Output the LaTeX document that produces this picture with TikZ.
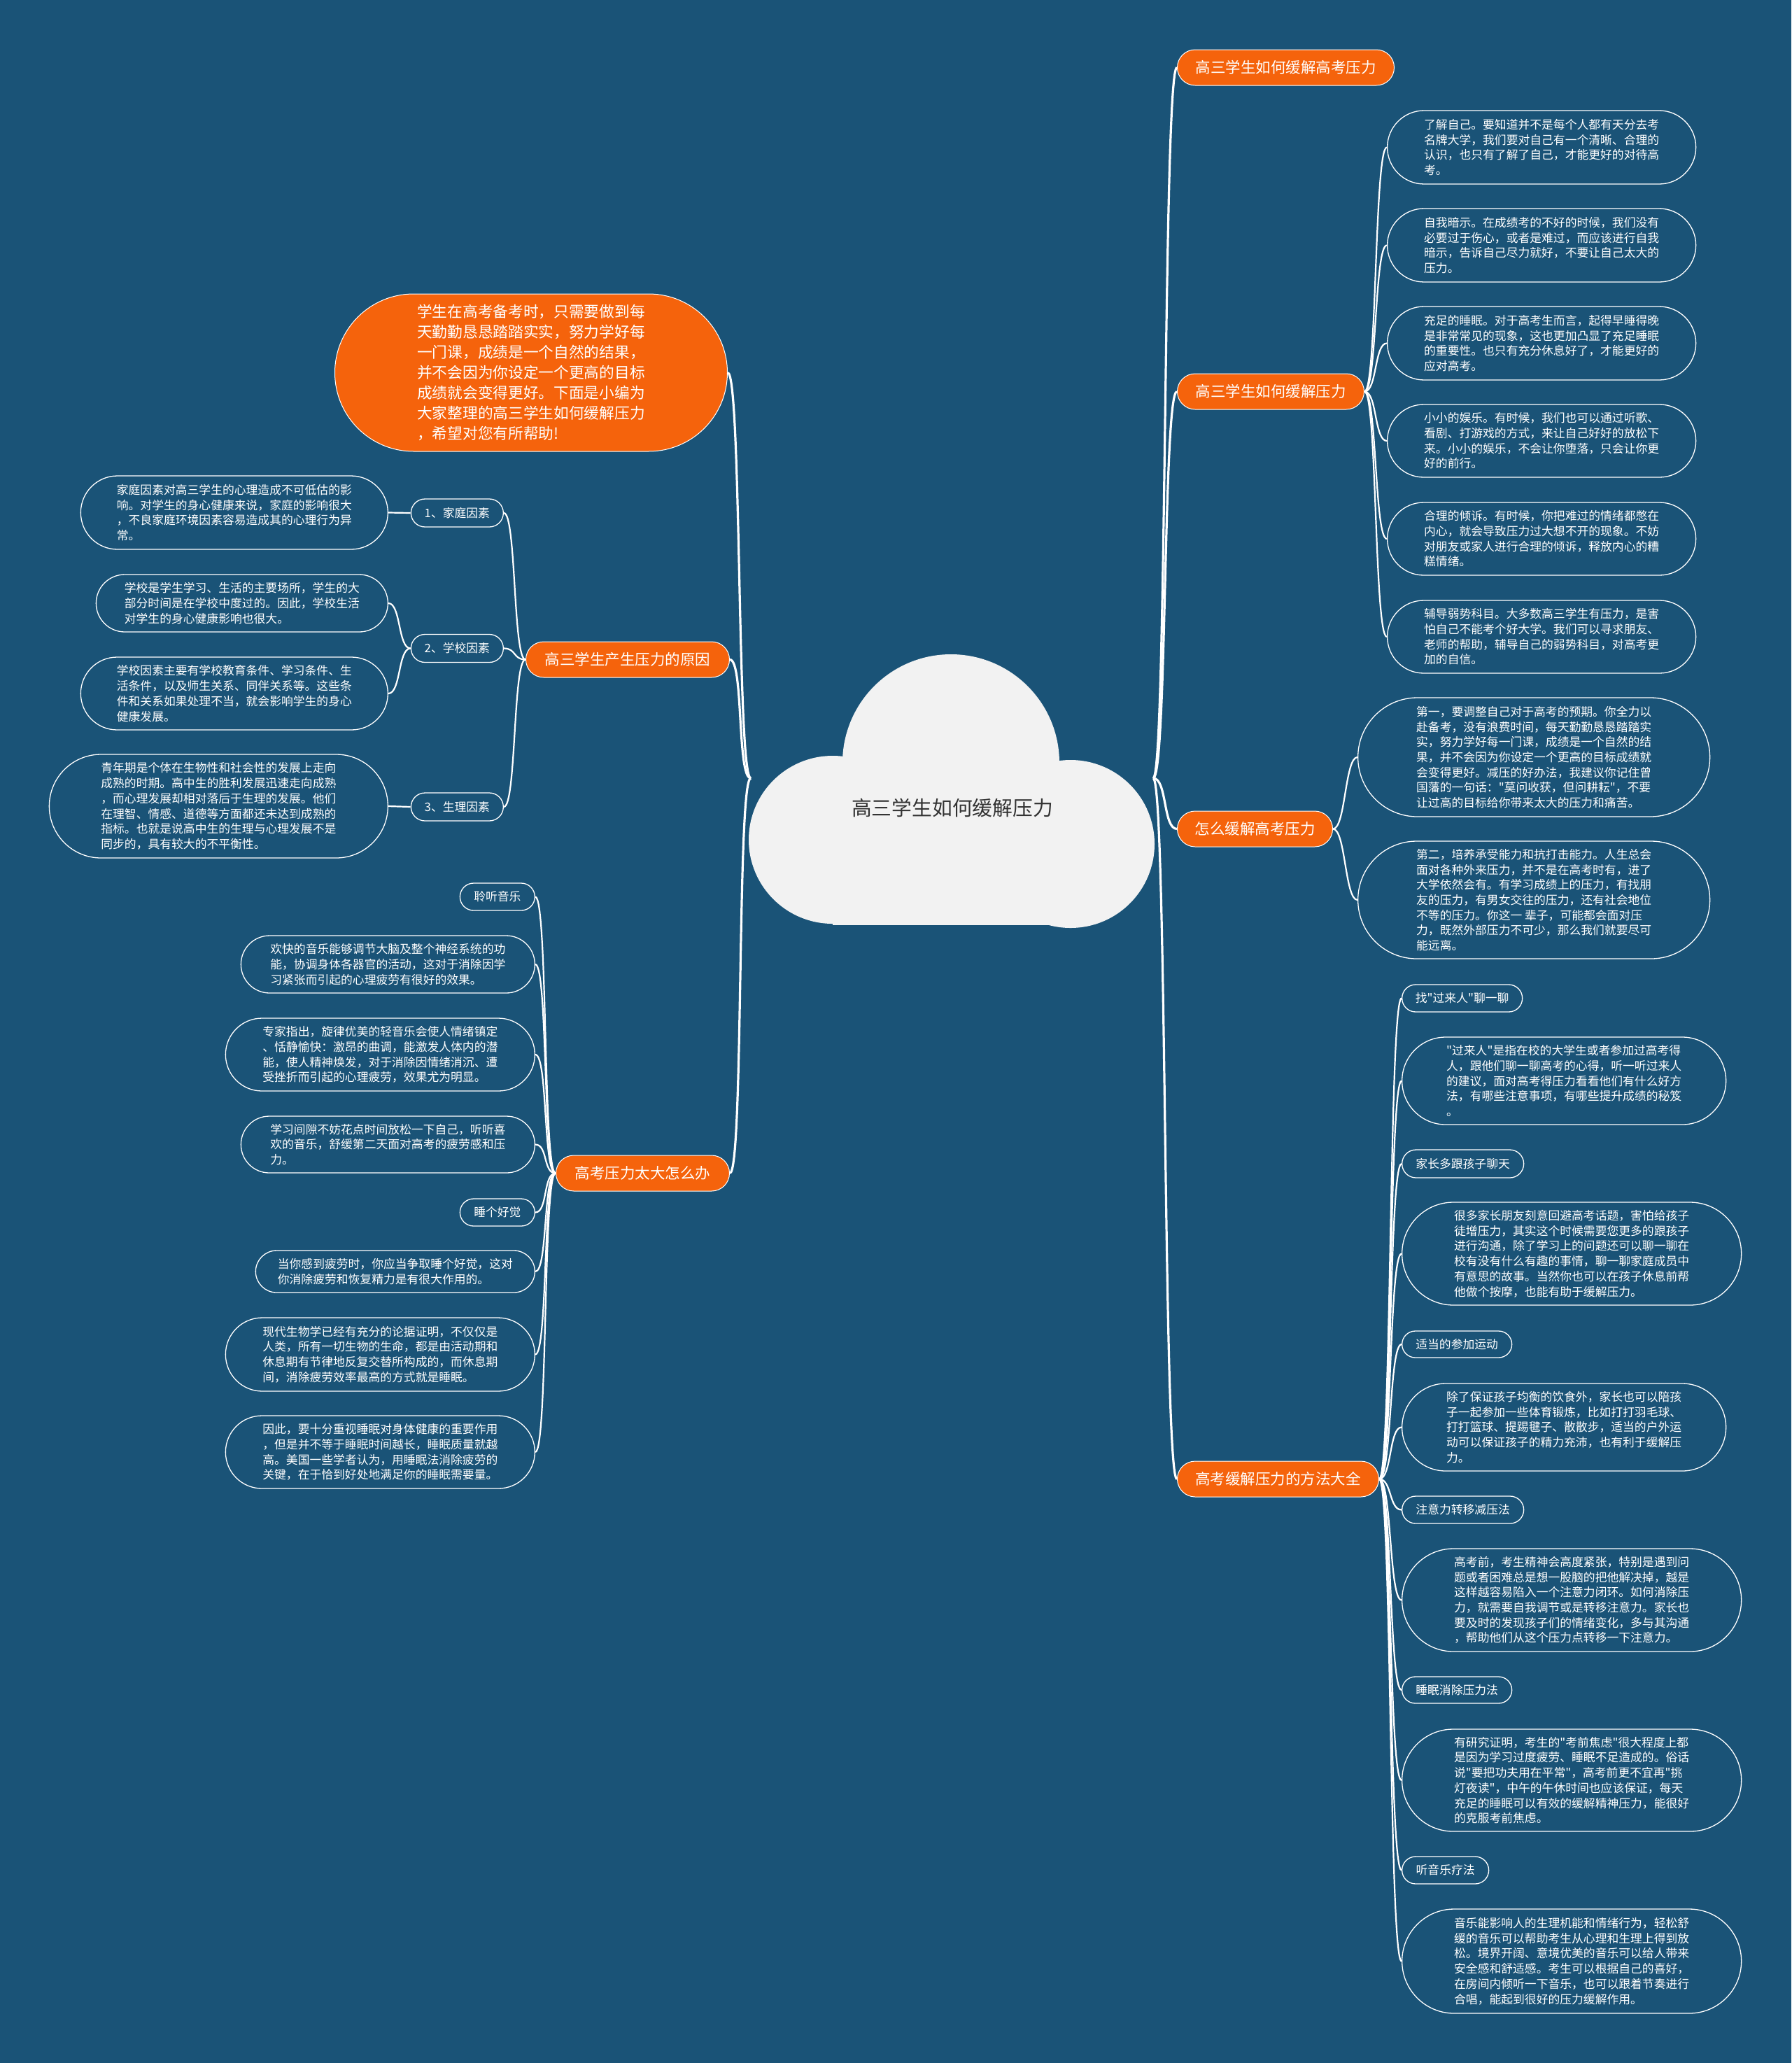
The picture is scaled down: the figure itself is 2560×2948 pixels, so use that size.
\documentclass[tikz,border=0pt]{standalone}
\usepackage{fontspec}
\newfontfamily\cjk{Noto Sans CJK SC}
\usetikzlibrary{shapes.misc}
\definecolor{bg}{HTML}{1A5377}
\definecolor{org}{HTML}{F5630C}
\definecolor{cloudc}{HTML}{F2F2F2}
\definecolor{roottxt}{HTML}{333333}
\begin{document}
\begin{tikzpicture}[x=1pt,y=-1pt,
  box/.style={draw=white, line width=1.3pt, rounded rectangle, inner sep=0pt, fill=bg, text=white, align=left, font=\cjk\fontsize{16.8}{21.7}\selectfont},
  brnode/.style={draw=white, line width=1pt, rounded rectangle, inner sep=0pt, fill=org, text=white, font=\cjk\fontsize{21.5}{26}\selectfont, minimum height=51pt},
  intro/.style={draw=white, line width=1pt, rounded rectangle, inner sep=0pt, fill=org, text=white, align=left, font=\cjk\fontsize{21.7}{29}\selectfont},
  conn/.style={draw=white, line width=2.2pt},
  trunk/.style={draw=white, line width=3.2pt}]

\fill[bg] (0,0) rectangle (2560,2948);
\useasboundingbox (0,0) rectangle (2560,2948);

% ---------- cloud ----------
\fill[cloudc] (1190,1200) circle[radius=120];
\fill[cloudc] (1530,1206) circle[radius=120];
\fill[cloudc] (1359,1090) circle[radius=155];
\fill[cloudc] (1190,1150) rectangle (1530,1322);
\node[text=roottxt, font=\cjk\fontsize{28.8}{34}\selectfont] (root) at (1361,1154) {高三学生如何缓解压力};
\coordinate (cr) at (1648,1112);
\coordinate (cl) at (1073,1112);

% ---------- right branches ----------
\node[brnode, anchor=west, minimum width=310pt] (b1) at (1682,96.5) {高三学生如何缓解高考压力};
\node[brnode, anchor=west, minimum width=267pt] (b2) at (1682,559.5) {高三学生如何缓解压力};
\node[brnode, anchor=west, minimum width=222pt] (b3) at (1682,1184.5) {怎么缓解高考压力};
\node[brnode, anchor=west, minimum width=288pt] (b4) at (1682,2113.5) {高考缓解压力的方法大全};

\node[box, anchor=west, minimum width=441pt, minimum height=105pt] (a1) at (1982,210.5) {了解自己。要知道并不是每个人都有天分去考\\名牌大学，我们要对自己有一个清晰、合理的\\认识，也只有了解了自己，才能更好的对待高\\考。};
\node[box, anchor=west, minimum width=441pt, minimum height=105pt] (a2) at (1982,350.5) {自我暗示。在成绩考的不好的时候，我们没有\\必要过于伤心，或者是难过，而应该进行自我\\暗示，告诉自己尽力就好，不要让自己太大的\\压力。};
\node[box, anchor=west, minimum width=441pt, minimum height=105pt] (a3) at (1982,490.5) {充足的睡眠。对于高考生而言，起得早睡得晚\\是非常常见的现象，这也更加凸显了充足睡眠\\的重要性。也只有充分休息好了，才能更好的\\应对高考。};
\node[box, anchor=west, minimum width=441pt, minimum height=104pt] (a4) at (1982,630) {小小的娱乐。有时候，我们也可以通过听歌、\\看剧、打游戏的方式，来让自己好好的放松下\\来。小小的娱乐，不会让你堕落，只会让你更\\好的前行。};
\node[box, anchor=west, minimum width=441pt, minimum height=104pt] (a5) at (1982,770) {合理的倾诉。有时候，你把难过的情绪都憋在\\内心，就会导致压力过大想不开的现象。不妨\\对朋友或家人进行合理的倾诉，释放内心的糟\\糕情绪。};
\node[box, anchor=west, minimum width=441pt, minimum height=104pt] (a6) at (1982,910) {辅导弱势科目。大多数高三学生有压力，是害\\怕自己不能考个好大学。我们可以寻求朋友、\\老师的帮助，辅导自己的弱势科目，对高考更\\加的自信。};

\node[box, anchor=west, minimum width=503pt, minimum height=170pt] (g1) at (1940,1082) {第一，要调整自己对于高考的预期。你全力以\\赴备考，没有浪费时间，每天勤勤恳恳踏踏实\\实，努力学好每一门课，成绩是一个自然的结\\果，并不会因为你设定一个更高的目标成绩就\\会变得更好。减压的好办法，我建议你记住曾\\国藩的一句话："莫问收获，但问耕耘"，不要\\让过高的目标给你带来太大的压力和痛苦。};
\node[box, anchor=west, minimum width=503pt, minimum height=168pt] (g2) at (1940,1286) {第二，培养承受能力和抗打击能力。人生总会\\面对各种外来压力，并不是在高考时有，进了\\大学依然会有。有学习成绩上的压力，有找朋\\友的压力，有男女交往的压力，还有社会地位\\不等的压力。你这一 辈子，可能都会面对压\\力，既然外部压力不可少，那么我们就要尽可\\能远离。};

\node[box, anchor=west, minimum width=172pt, minimum height=39pt] (m1) at (2003,1426.5) {找"过来人"聊一聊};
\node[box, anchor=west, minimum width=463pt, minimum height=125pt] (m2) at (2003,1544.5) {"过来人"是指在校的大学生或者参加过高考得\\人，跟他们聊一聊高考的心得，听一听过来人\\的建议，面对高考得压力看看他们有什么好方\\法，有哪些注意事项，有哪些提升成绩的秘笈\\。};
\node[box, anchor=west, minimum width=174pt, minimum height=40pt] (m3) at (2003,1663) {家长多跟孩子聊天};
\node[box, anchor=west, minimum width=485pt, minimum height=147pt] (m4) at (2003,1791.5) {很多家长朋友刻意回避高考话题，害怕给孩子\\徒增压力，其实这个时候需要您更多的跟孩子\\进行沟通，除了学习上的问题还可以聊一聊在\\校有没有什么有趣的事情，聊一聊家庭成员中\\有意思的故事。当然你也可以在孩子休息前帮\\他做个按摩，也能有助于缓解压力。};
\node[box, anchor=west, minimum width=157pt, minimum height=38pt] (m5) at (2003,1921) {适当的参加运动};
\node[box, anchor=west, minimum width=463pt, minimum height=125pt] (m6) at (2003,2039.5) {除了保证孩子均衡的饮食外，家长也可以陪孩\\子一起参加一些体育锻炼，比如打打羽毛球、\\打打篮球、提踢毽子、散散步，适当的户外运\\动可以保证孩子的精力充沛，也有利于缓解压\\力。};
\node[box, anchor=west, minimum width=174pt, minimum height=39pt] (m7) at (2003,2157.5) {注意力转移减压法};
\node[box, anchor=west, minimum width=485pt, minimum height=147pt] (m8) at (2003,2286.5) {高考前，考生精神会高度紧张，特别是遇到问\\题或者困难总是想一股脑的把他解决掉，越是\\这样越容易陷入一个注意力闭环。如何消除压\\力，就需要自我调节或是转移注意力。家长也\\要及时的发现孩子们的情绪变化，多与其沟通\\，帮助他们从这个压力点转移一下注意力。};
\node[box, anchor=west, minimum width=157pt, minimum height=38pt] (m9) at (2003,2415) {睡眠消除压力法};
\node[box, anchor=west, minimum width=485pt, minimum height=146pt] (m10) at (2003,2544) {有研究证明，考生的"考前焦虑"很大程度上都\\是因为学习过度疲劳、睡眠不足造成的。俗话\\说"要把功夫用在平常"，高考前更不宜再"挑\\灯夜读"，中午的午休时间也应该保证，每天\\充足的睡眠可以有效的缓解精神压力，能很好\\的克服考前焦虑。};
\node[box, anchor=west, minimum width=124pt, minimum height=39pt] (m11) at (2003,2672.5) {听音乐疗法};
\node[box, anchor=west, minimum width=485pt, minimum height=149pt] (m12) at (2003,2802.5) {音乐能影响人的生理机能和情绪行为，轻松舒\\缓的音乐可以帮助考生从心理和生理上得到放\\松。境界开阔、意境优美的音乐可以给人带来\\安全感和舒适感。考生可以根据自己的喜好，\\在房间内倾听一下音乐，也可以跟着节奏进行\\合唱，能起到很好的压力缓解作用。};

% ---------- left branches ----------
\node[intro, anchor=east, minimum width=561pt, minimum height=225pt] (b7) at (1040,532.5) {学生在高考备考时，只需要做到每\\天勤勤恳恳踏踏实实，努力学好每\\一门课，成绩是一个自然的结果，\\并不会因为你设定一个更高的目标\\成绩就会变得更好。下面是小编为\\大家整理的高三学生如何缓解压力\\，希望对您有所帮助!};
\node[brnode, anchor=east, minimum width=291pt] (b5) at (1043,942.5) {高三学生产生压力的原因};
\node[brnode, anchor=east, minimum width=248pt] (b6) at (1043,1676.5) {高考压力太大怎么办};

\node[box, anchor=east, minimum width=132pt, minimum height=40pt] (f1) at (720,733) {1、家庭因素};
\node[box, anchor=east, minimum width=132pt, minimum height=40pt] (f2) at (720,926.5) {2、学校因素};
\node[box, anchor=east, minimum width=132pt, minimum height=40pt] (f3) at (720,1153) {3、生理因素};
\node[box, anchor=east, minimum width=439pt, minimum height=105pt] (f1a) at (555,732.5) {家庭因素对高三学生的心理造成不可低估的影\\响。对学生的身心健康来说，家庭的影响很大\\，不良家庭环境因素容易造成其的心理行为异\\常。};
\node[box, anchor=east, minimum width=417pt, minimum height=82pt] (f2a) at (555,862) {学校是学生学习、生活的主要场所，学生的大\\部分时间是在学校中度过的。因此，学校生活\\对学生的身心健康影响也很大。};
\node[box, anchor=east, minimum width=439pt, minimum height=104pt] (f2b) at (555,991) {学校因素主要有学校教育条件、学习条件、生\\活条件，以及师生关系、同伴关系等。这些条\\件和关系如果处理不当，就会影响学生的身心\\健康发展。};
\node[box, anchor=east, minimum width=484pt, minimum height=148pt] (f3a) at (555,1152) {青年期是个体在生物性和社会性的发展上走向\\成熟的时期。高中生的胜利发展迅速走向成熟\\，而心理发展却相对落后于生理的发展。他们\\在理智、情感、道德等方面都还未达到成熟的\\指标。也就是说高中生的生理与心理发展不是\\同步的，具有较大的不平衡性。};

\node[box, anchor=east, minimum width=107pt, minimum height=39pt] (s1) at (765,1281.5) {聆听音乐};
\node[box, anchor=east, minimum width=420pt, minimum height=82pt] (s2) at (765,1378) {欢快的音乐能够调节大脑及整个神经系统的功\\能，协调身体各器官的活动，这对于消除因学\\习紧张而引起的心理疲劳有很好的效果。};
\node[box, anchor=east, minimum width=442pt, minimum height=104pt] (s3) at (765,1507) {专家指出，旋律优美的轻音乐会使人情绪镇定\\、恬静愉快：激昂的曲调，能激发人体内的潜\\能，使人精神焕发，对于消除因情绪消沉、遭\\受挫折而引起的心理疲劳，效果尤为明显。};
\node[box, anchor=east, minimum width=420pt, minimum height=81pt] (s4) at (765,1635.5) {学习间隙不妨花点时间放松一下自己，听听喜\\欢的音乐，舒缓第二天面对高考的疲劳感和压\\力。};
\node[box, anchor=east, minimum width=107pt, minimum height=39pt] (s5) at (765,1732.5) {睡个好觉};
\node[box, anchor=east, minimum width=399pt, minimum height=60pt] (s6) at (765,1817) {当你感到疲劳时，你应当争取睡个好觉，这对\\你消除疲劳和恢复精力是有很大作用的。};
\node[box, anchor=east, minimum width=442pt, minimum height=105pt] (s7) at (765,1935.5) {现代生物学已经有充分的论据证明，不仅仅是\\人类，所有一切生物的生命，都是由活动期和\\休息期有节律地反复交替所构成的，而休息期\\间，消除疲劳效率最高的方式就是睡眠。};
\node[box, anchor=east, minimum width=442pt, minimum height=104pt] (s8) at (765,2075) {因此，要十分重视睡眠对身体健康的重要作用\\，但是并不等于睡眠时间越长，睡眠质量就越\\高。美国一些学者认为，用睡眠法消除疲劳的\\关键，在于恰到好处地满足你的睡眠需要量。};

% ---------- connectors ----------
\foreach \n in {b1,b2,b3,b4}
  \draw[trunk] (cr) .. controls +(20,0) and +(-20,0) .. (\n.west);
\foreach \n in {b5,b6,b7}
  \draw[trunk] (cl) .. controls +(-20,0) and +(20,0) .. (\n.east);
\foreach \n in {a1,a2,a3,a4,a5,a6}
  \draw[conn] (b2.east) .. controls +(18,0) and +(-18,0) .. (\n.west);
\foreach \n in {g1,g2}
  \draw[conn] (b3.east) .. controls +(18,0) and +(-18,0) .. (\n.west);
\foreach \n in {m1,m2,m3,m4,m5,m6,m7,m8,m9,m10,m11,m12}
  \draw[conn] (b4.east) .. controls +(18,0) and +(-18,0) .. (\n.west);
\foreach \n in {f1,f2,f3}
  \draw[conn] (b5.west) .. controls +(-18,0) and +(18,0) .. (\n.east);
\draw[conn] (f1.west) -- (f1a.east);
\draw[conn] (f2.west) .. controls +(-18,0) and +(18,0) .. (f2a.east);
\draw[conn] (f2.west) .. controls +(-18,0) and +(18,0) .. (f2b.east);
\draw[conn] (f3.west) -- (f3a.east);
\foreach \n in {s1,s2,s3,s4,s5,s6,s7,s8}
  \draw[conn] (b6.west) .. controls +(-18,0) and +(18,0) .. (\n.east);
\end{tikzpicture}
\end{document}
